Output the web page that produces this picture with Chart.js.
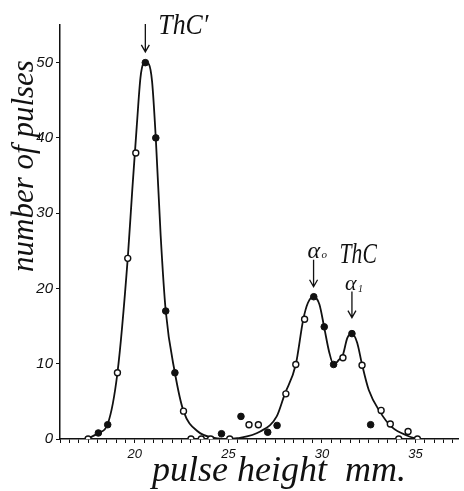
<!DOCTYPE html>
<html>
<head>
<meta charset="utf-8">
<script src="https://cdn.jsdelivr.net/npm/chart.js@4/dist/chart.umd.min.js"></script>
<style>
  html, body { margin: 0; padding: 0; background: #fff; }
  #plot { display: block; }
</style>
</head>
<body>
<canvas id="plot" width="464" height="491"></canvas>
<script>
// Pulse-height spectrum of ThC' and ThC alpha groups.

// measured points drawn as open circles
const openX = [17.5, 19.07, 19.62, 20.05, 22.6, 23.0, 23.55, 24.05, 25.07,
               26.1, 26.6, 28.07, 28.6, 29.07, 31.12, 32.14, 33.16, 33.65, 34.1, 34.6, 35.1];
const openY = [0, 8.8, 24, 38, 3.7, 0, 0, 0, 0,
               1.9, 1.9, 6, 9.9, 15.9, 10.8, 9.8, 3.8, 2, 0, 1, 0];

// measured points drawn as filled dots
const filledX = [18.05, 18.55, 20.56, 21.12, 21.65, 22.14, 24.63,
                 25.67, 27.1, 27.6, 29.56, 30.12, 30.62, 31.6, 32.6];
const filledY = [0.8, 1.9, 50, 40, 17, 8.8, 0.7,
                 3, 0.9, 1.8, 18.9, 14.9, 9.9, 14, 1.9];

// the hand-drawn smooth curve
const curveX = [17.45, 18.05, 18.55, 19.07, 19.62, 19.86, 20.1, 20.3, 20.45, 20.56,
                20.75, 20.92, 21.12, 21.38, 21.65, 22.14, 22.6, 23.37, 24.25, 25.0, 25.47,
                26.7, 27.58, 28.0, 28.6, 29.0, 29.25, 29.55, 29.86, 30.12, 30.38, 30.62,
                30.9, 31.12, 31.35, 31.6, 31.88, 32.14, 32.5, 33.1, 33.72, 34.6, 35.1];
const curveY = [0, 0.8, 2.0, 8.8, 24, 33, 41.5, 48, 49.9, 50.1,
                49.8, 47.5, 39.9, 27, 17, 8.8, 3.7, 1.0, 0.15, 0, 0.1,
                1.0, 3.0, 5.9, 9.9, 15.9, 18.1, 18.9, 17.9, 14.8, 11.6, 9.9,
                10.5, 11.2, 13.4, 14, 12.8, 9.9, 6.5, 3.6, 1.6, 0.4, 0];

const xLabelTicks = [20, 25, 30, 35];
const yLabelTicks = [0, 10, 20, 30, 40, 50];

// peak markers: x position and peak height the arrow points at
const peakNotes = [
  { x: 20.56, y: 50.1, gap: 10, len: 28 },
  { x: 29.55, y: 18.9, gap: 10, len: 27 },
  { x: 31.6, y: 14, gap: 16, len: 26 },
];

const SERIF = '"Liberation Serif", "DejaVu Serif", serif';
const SANS = '"Liberation Sans", "DejaVu Sans", sans-serif';

function pts(xs, ys) {
  return xs.map((x, i) => ({ x, y: ys[i] }));
}

// squeezed text helps mimic the narrow hand lettering
function drawText(ctx, text, x, y, size, squeeze, align) {
  ctx.save();
  ctx.translate(x, y);
  ctx.scale(squeeze, 1);
  ctx.font = `italic ${size}px ${SERIF}`;
  ctx.textAlign = align || 'left';
  ctx.textBaseline = 'alphabetic';
  ctx.fillText(text, 0, 0);
  ctx.restore();
}

function drawArrow(ctx, x, tail, tip) {
  ctx.beginPath();
  ctx.moveTo(x, tail);
  ctx.lineTo(x, tip);
  ctx.moveTo(x - 4, tip - 7);
  ctx.lineTo(x, tip);
  ctx.lineTo(x + 4, tip - 7);
  ctx.stroke();
}

const notesPlugin = {
  id: 'notes',
  afterDraw(chart) {
    const { ctx, scales } = chart;
    const xs = scales.x, ys = scales.y;
    ctx.save();
    ctx.fillStyle = '#111';
    ctx.strokeStyle = '#111';
    ctx.lineWidth = 1.3;

    const arrows = peakNotes.map(p => {
      const px = xs.getPixelForValue(p.x);
      const tip = ys.getPixelForValue(p.y) - p.gap;
      drawArrow(ctx, px, tip - p.len, tip);
      return { px, tail: tip - p.len };
    });

    // ThC' above the big peak
    drawText(ctx, 'ThC\u2032', arrows[0].px + 13, arrows[0].tail + 10, 30, 0.86);
    // alpha0 and ThC above the double peak
    drawText(ctx, '\u03b1', arrows[1].px - 6, arrows[1].tail - 2, 24, 1);
    drawText(ctx, 'o', arrows[1].px + 8, arrows[1].tail - 2, 11, 1);
    drawText(ctx, 'ThC', arrows[1].px + 26, arrows[1].tail + 3, 30, 0.72);
    // alpha1
    drawText(ctx, '\u03b1', arrows[2].px - 7, arrows[2].tail - 2, 22, 1);
    drawText(ctx, '1', arrows[2].px + 6, arrows[2].tail, 10, 1);

    // axis titles
    ctx.save();
    ctx.translate(23, 166);
    ctx.rotate(-Math.PI / 2);
    drawText(ctx, 'number of pulses', 0, 10, 31, 1, 'center');
    ctx.restore();
    drawText(ctx, 'pulse height  mm.', 279, 481, 36, 1, 'center');
    ctx.restore();
  }
};

new Chart(document.getElementById('plot').getContext('2d'), {
  type: 'scatter',
  data: {
    datasets: [
      {
        label: 'curve',
        data: pts(curveX, curveY),
        showLine: true,
        borderColor: '#111',
        borderWidth: 1.8,
        pointRadius: 0,
        cubicInterpolationMode: 'monotone',
        order: 3,
      },
      {
        label: 'open',
        data: pts(openX, openY),
        pointRadius: 3,
        pointBackgroundColor: '#fff',
        pointBorderColor: '#111',
        pointBorderWidth: 1.4,
        order: 1,
      },
      {
        label: 'filled',
        data: pts(filledX, filledY),
        pointRadius: 3.3,
        pointBackgroundColor: '#111',
        pointBorderColor: '#111',
        pointBorderWidth: 1,
        order: 2,
      },
    ],
  },
  options: {
    responsive: false,
    animation: false,
    layout: { padding: { top: 25, right: 0, left: 0, bottom: 0 } },
    plugins: { legend: { display: false }, tooltip: { enabled: false } },
    scales: {
      x: {
        type: 'linear',
        min: 16,
        max: 37.3,
        afterFit: s => { s.height = 52; },
        border: { display: true, color: '#111', width: 1.5 },
        grid: { drawOnChartArea: false, drawTicks: true, tickLength: 4, tickColor: '#111', tickWidth: 1 },
        ticks: {
          stepSize: 0.5,
          includeBounds: false,
          autoSkip: false,
          maxRotation: 0,
          padding: 4,
          color: '#111',
          font: { family: SANS, size: 13, style: 'italic' },
          callback: v => (xLabelTicks.includes(v) ? String(v) : ''),
        },
      },
      y: {
        min: 0,
        max: 55,
        afterFit: s => { s.width = 60; },
        border: { display: true, color: '#111', width: 1.5 },
        grid: { drawOnChartArea: false, drawTicks: true, tickLength: 4, tickColor: '#111', tickWidth: 1 },
        ticks: {
          stepSize: 10,
          includeBounds: false,
          padding: 3,
          color: '#111',
          font: { family: SANS, size: 15, style: 'italic' },
          callback: v => (yLabelTicks.includes(v) ? String(v) : ''),
        },
      },
    },
  },
  plugins: [notesPlugin],
});
</script>
</body>
</html>
